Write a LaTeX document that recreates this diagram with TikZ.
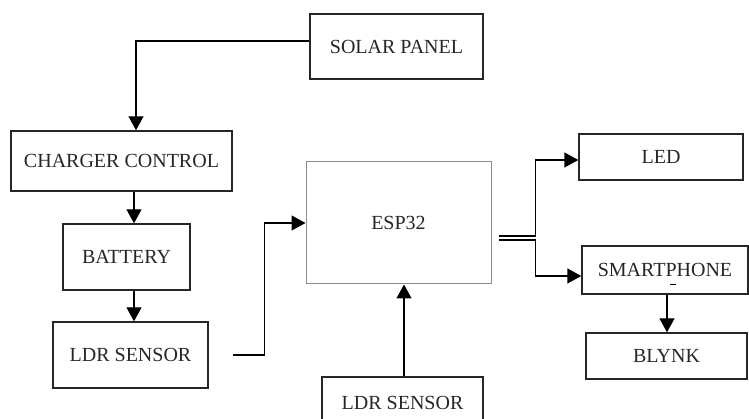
\documentclass[tikz,border=0pt]{standalone}
\usepackage{fontspec}
\setmainfont{Liberation Serif}
\usepackage{tikz}
\usetikzlibrary{arrows.meta,positioning}

\begin{document}
\begin{tikzpicture}[
  x=1pt, y=-1pt,
  block/.style={rectangle, draw=black!85, line width=1.4pt, inner sep=2pt,
    font=\fontsize{20}{23}\selectfont, text=black!85},
  link/.style={draw, line width=1.4pt, -{Triangle[length=14pt, width=15pt]}}
]
\useasboundingbox (0,0) rectangle (749,419);
\clip (0,0) rectangle (749,419);

\node[block, minimum width=173pt, minimum height=65pt] (solar) at (396.5,46.5) {SOLAR PANEL};
\node[block, minimum width=221pt, minimum height=60pt] (charger) at (121.5,161) {CHARGER CONTROL};
\node[block, minimum width=127pt, minimum height=66pt] (battery) at (126.5,257) {BATTERY};
\node[block, minimum width=155pt, minimum height=66pt] (ldrA) at (130.5,355) {LDR SENSOR};
\node[block, draw=black!45, line width=1pt, minimum width=185pt, minimum height=122pt] (esp) at (398.5,223) {ESP32};
\node[block, minimum width=161pt, minimum height=52pt] (ldrB) at (402.5,403) {LDR SENSOR};
\node[block, minimum width=164pt, minimum height=46pt] (led) at (661,157) {LED};
\node[block, minimum width=166pt, minimum height=48pt] (phone) at (665,270) {SMARTPHONE};
\node[block, minimum width=161pt, minimum height=46pt] (blynk) at (666.5,356) {BLYNK};

% power side
\draw[link] ([yshift=5.5pt]solar.west) -| ([xshift=14.5pt]charger.north);
\draw[link] ([xshift=12.5pt]charger.south) -- ([xshift=12.5pt]charger.south |- battery.north);
\draw[link] ([xshift=7.5pt]battery.south) -- ([xshift=7.5pt]battery.south |- ldrA.north);

% sensors to controller
\draw[link] ([xshift=24pt]ldrA.east) -- ++(32,0) |- (esp.west);
\draw[link] ([xshift=1.5pt]ldrB.north) -- ([xshift=1.5pt]ldrB.north |- esp.south);

% outputs
\draw[link] ([shift={(7,13)}]esp.east) -- ++(37,0) |- ([yshift=-3pt]led.west);
\draw[link] ([shift={(7,17)}]esp.east) -- ++(37,0) |- ([yshift=-6pt]phone.west);
\draw[line width=1pt] ([shift={(5,-10)}]phone.south) -- ++(6,0);
\draw[link] ([xshift=2pt]phone.south) -- ([xshift=2pt]phone.south |- blynk.north);
\end{tikzpicture}
\end{document}
